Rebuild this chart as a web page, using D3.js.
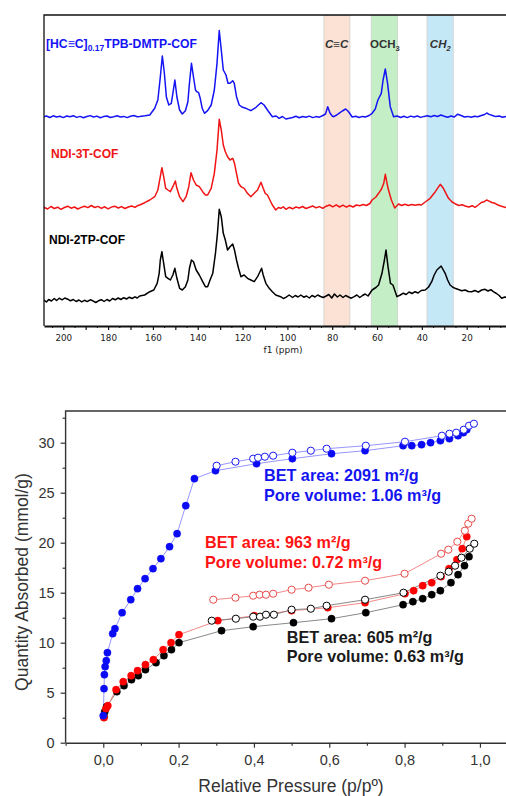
<!DOCTYPE html>
<html><head><meta charset="utf-8">
<script src="https://cdn.jsdelivr.net/npm/d3@7"></script>
<style>body{margin:0;background:#fff}svg{display:block}</style>
</head><body><svg id="c" width="506" height="796"></svg>
<script>
// ---------- Top panel: 13C NMR spectra (ppm, intensity a.u.) ----------
const blueSpec = [[208.6,0.3],[207.5,1],[206,-0.5],[204.5,1.2],[203,0],[201.5,0.8],[200,-0.6],[198.5,1],[197,0.2],[195.5,1.3],[194,-0.4],[192.5,0.6],[191,-0.8],[189.5,0.5],[188,1.4],[186.5,0],[185,0.9],[183.5,-0.7],[182,0.4],[180.5,1],[179,-0.5],[177.5,0.3],[176,1.2],[174.5,0],[173,0.6],[171.5,-0.6],[170,0.8],[168.5,1.5],[167,0.3],
[165.9,0.5],[163.5,1.2],[161.4,2],[159.2,8.7],[157.8,17],[156.7,40],[155.8,61],[154.9,44],[154,20],[152.9,12],[151.8,13.7],[151.1,23.7],[150.2,37],[149.3,20],[148.1,7],[146.9,3],[145.5,6.3],[144.4,15.3],[143.7,33.7],[142.8,53.7],[141.9,40],[141,27],[140.4,25.3],[139.6,24.3],[138.9,18.7],[138,8.7],[137,3.7],[135.6,6.3],[134,12],[132.6,27],[131.4,53.7],[130.4,86.5],[129.5,67],[128.6,47],[127.4,42],[126.5,33.7],[125.6,33.7],[124.4,36.3],[123.7,33.7],[122.7,20.3],[121.5,12],[120,9.7],[118.5,8.7],[116.3,6.3],[114,9.7],[111.8,14.3],[110.4,12],[108.9,7],[106.7,0.3],[105,1],[103.7,-1.3],[102.2,0.5],[100.7,-2],[99.2,-1.3],
[97.7,-0.5],[96.2,0.8],[94.7,-0.8],[93.2,0.5],[91.7,-0.3],[90.2,0.9],[88.7,-0.6],[87.2,0.4],[85.7,-0.2],[84.2,1.5],[83,3],[82,10.3],[81,4],[80,1],[79.3,0.3],[78,2],[77,3.7],[75.5,6],[74,8],[73,6],[72.3,4],[71.1,0],[69.5,0.8],[68,-0.5],[66.5,0.6],[65.2,0],[63.5,1.5],[62.2,3.7],[60.8,8],[59.6,17],[58.1,23.7],[57.3,37],[56.3,48],[55.3,33.7],[54.1,10.3],[52.6,0.3],[51,1],[49.5,-0.5],[48,0.7],[46.5,-0.6],[45,0.9],[43.5,0],[42,1],[40.5,-0.4],[39,0.6],[37.5,1.2],[36,0.2],[34.5,1.5],[33,0.5],[31.5,2],[30,0.8],[28.5,-0.3],[27,1],[25.5,0],[24,2.8],[22.5,1.5],[21,0],[19.5,0.6],[18,-0.3],[16.5,0.8],[15,0.2],[13.5,1.5],[12,2.5],[11,4],[10,2.6],[8.5,1.5],[7,0.4],[5.5,1],[4,-0.3],[2.5,0.6],[1,0.2],[0,0.5]];

const redSpec = [[208.6,0.7],[207,-1],[205.5,1.5],[204,-0.5],[202.5,0.8],[201,-1.3],[199.5,0.5],[198,1.8],[196.5,-0.2],[195,1],[193.5,-1],[192,0.6],[190.5,1.8],[189,0.4],[187.5,2.5],[186,0.5],[184.5,1.6],[183,-0.4],[181.5,1.2],[180,-0.8],[178.5,0.9],[177,1.8],[175.5,0],[174,1.4],[172.5,-0.5],[171,1],[169.5,2],[168,0.6],[167,2.2],
[165.9,3],[163.7,5.3],[161.4,8],[159.2,11.3],[157.8,18],[156.7,31.3],[156,40.3],[155.2,31.3],[154.3,19.7],[153.3,18],[152.2,16.3],[151.1,21.3],[150,27],[149.3,19.7],[148.1,11.3],[146.6,6.3],[145.2,11.3],[144,21.3],[143,35.3],[141.9,28],[140.7,23],[139.3,21.3],[137.8,16.3],[136.6,13],[135.6,13],[134,19.7],[132.6,34.7],[131.4,58],[130.4,88.7],[129.5,78],[128.6,63],[127.7,56.3],[126.7,51.3],[125.6,48],[124.4,49.7],[123.6,44.7],[122.7,34.7],[121.8,24.7],[120.7,21.3],[119.3,19.7],[117.8,14.7],[116.3,11.3],[114.8,14.7],[113.3,18],[111.8,25.7],[110.8,19.7],[109.9,14.7],[108.9,13],[107.8,8],[106.7,3],[105.2,-2],[104,0.5],[103,-0.3],[101.8,1.2],[100.7,-1.3],[99.2,0.7],
[97.7,-0.8],[96.2,1],[94.7,0],[93.2,1.5],[91.7,-0.5],[90.2,0.8],[88.7,2],[87.2,0.2],[85.7,1.4],[84.2,-0.3],[82.7,1.8],[81.2,3],[79.7,1.2],[78.2,3.2],[76.7,1],[75.2,2.8],[73.7,0.8],[72.2,2.5],[70.7,1],[69.2,3],[67.7,2.2],[66.2,3.5],[64.7,2.5],[63.2,4.5],[62.2,8],[60.5,11],[59.3,14.7],[58,19],[57,24.7],[56.3,33.7],[55.1,19.7],[53.6,8],[52.1,0],[50.4,4],[49,2.5],[47.5,3.8],[46,2.5],[44.5,3.5],[43,2.8],[41.5,3.6],[40.2,3],[38.5,6],[36.3,9.7],[34,16.3],[31.8,23.7],[30.4,19.7],[28.1,9.7],[26.5,6],[25.2,4.3],[23.5,2.5],[22,3.2],[20.7,2],[19,1],[17.5,2.3],[16.3,0.7],[14.8,3],[13.5,5.5],[12.2,6.3],[11.1,8],[10,6.8],[8.8,5.5],[7.4,4.7],[6,3],[4.8,2],[3.7,1.3],[2.4,0.5],[1,1],[0,0.3]];

const blackSpec = [[208.6,0],[207.5,-2],[206.5,0.5],[205.3,-1],[204,1.5],[203,-0.5],[201.8,1.8],[200.5,0.2],[199.3,2],[198,0.8],[196.8,-0.8],[195.5,0.5],[194.3,-1.5],[193,0],[191.8,-1.8],[190.5,-0.3],[189.3,-1.6],[188,0.2],[186.8,-0.8],[185.5,-2.5],[184.3,-0.8],[183,0.3],[181.8,-1.5],[180.5,0.5],[179.3,-1],[178,1.5],[176.8,0.2],[175.5,2],[174.3,0.5],[173,2.3],[171.8,1],[170.5,2.8],[169.3,1.5],[168,3.2],[167,2],
[165.9,4],[163.7,5],[161.4,8.3],[159.6,10],[158.1,16.7],[157.2,26.7],[156.7,40],[156,48.3],[155.2,36.7],[154.3,23.3],[153.3,21.7],[152.2,20],[151.1,25],[150.2,31.7],[149.3,21.7],[148.1,11.7],[146.9,10],[145.5,13.3],[144.4,20],[143.7,31.7],[142.8,40],[141.9,38.3],[140.7,30],[139.3,25],[137.8,18.3],[136.6,13.3],[135.6,13.3],[134.5,20],[133.3,26.7],[132.1,46.7],[131.2,66.7],[130.4,90.7],[129.5,83.3],[128.6,66.7],[127.7,60],[126.7,50],[125.6,53.3],[124.4,56],[123.6,50],[122.7,40],[121.8,31.7],[120.7,23.3],[119.3,25],[117.8,21.7],[116.3,20],[114.8,18.3],[113.3,23.3],[111.5,31.7],[110.8,25],[109.6,16.7],[108.1,11.7],[106.7,8.3],[105.2,5],[103,3.3],[101.8,1.5],[100.7,2.7],[99.2,5],
[97.7,2.5],[96.5,4.5],[95.2,3],[94,5],[92.7,2.8],[91.5,4],[90.2,2],[89,4.5],[87.7,3],[86.5,5],[85.2,3.5],[84,2.5],[82.7,4],[81.5,5.5],[80.2,2],[79,6],[77.7,3],[76.5,5],[75.2,2.5],[74,4.5],[72.7,3],[71.5,1.8],[70.2,3.3],[69,5],[67.7,2.5],[66.5,4.5],[65.3,6],[64,4],[62.2,10],[60.5,12.5],[59.3,15],[57.8,26.7],[56.7,40],[56,50],[55.1,33.3],[54,16.7],[52.9,15],[51.1,3.3],[49.6,5],[48.3,6.8],[47,5.5],[45.7,8],[44.4,6.5],[43,8.3],[41.7,7],[40.3,9.5],[38.5,10],[37,13],[35.6,18.3],[34.5,25],[33.3,30],[31.4,34],[29.6,26.7],[28.5,20],[27.4,15],[26.3,13],[25.2,11.7],[23.7,10.5],[22.2,9.3],[20.7,10],[19.3,8.5],[17.8,8.3],[16.3,9.5],[14.8,7.8],[13.3,10],[11.8,10.7],[10.5,9],[9.2,10.3],[8.1,8.3],[6.7,6.5],[5.5,4.5],[4.4,1.7],[3,3],[1.5,2],[0,2.5]];

const bandRanges = [[83.7,72.1],[62.6,50.8],[37.7,26.0]];
const bandColors = ["#fbe2d5","#c4efc6","#c5e8f7"];
const ppmTicks = [200,180,160,140,120,100,80,60,40,20];

// ---------- Bottom panel: N2 isotherms (p/p0, mmol/g) ----------
const blueAds = [[0.000,2.7],[0.002,5.4],[0.003,6.8],[0.005,7.6],[0.008,8.2],[0.011,9.0],[0.025,10.9],[0.031,11.4],[0.050,13.0],[0.073,14.3],[0.091,15.4],[0.111,16.4],[0.132,17.4],[0.153,18.4],[0.176,19.6],[0.196,20.9],[0.219,23.7],[0.242,26.4],[0.298,27.2],[0.407,27.9],[0.502,28.4],[0.606,28.9],[0.695,29.2],[0.796,29.7],[0.819,29.7],[0.845,29.8],[0.869,30.0],[0.895,30.2],[0.919,30.4],[0.942,30.7],[0.956,31.0],[0.965,31.3]];
const blueDes = [[0.301,27.7],[0.351,28.1],[0.398,28.4],[0.411,28.5],[0.429,28.6],[0.451,28.7],[0.502,29.0],[0.551,29.2],[0.593,29.4],[0.697,29.7],[0.801,30.1],[0.899,30.7],[0.919,30.9],[0.937,31.0],[0.957,31.3],[0.971,31.7],[0.984,31.9]];
const redAds = [[0.002,2.5],[0.007,3.4],[0.012,3.7],[0.034,5.3],[0.053,6.1],[0.074,6.7],[0.091,7.2],[0.112,7.8],[0.133,8.3],[0.159,9.3],[0.180,10.0],[0.201,10.8],[0.304,12.2],[0.401,12.7],[0.500,13.2],[0.596,13.5],[0.695,14.0],[0.801,14.9],[0.824,15.2],[0.848,15.7],[0.872,16.0],[0.897,16.6],[0.918,17.4],[0.939,18.3],[0.953,19.4],[0.965,20.6]];
const redDes = [[0.292,14.3],[0.351,14.5],[0.398,14.7],[0.415,14.8],[0.432,14.8],[0.451,14.9],[0.500,15.3],[0.545,15.5],[0.599,15.8],[0.695,16.2],[0.800,16.9],[0.897,18.9],[0.916,19.3],[0.940,20.1],[0.960,21.2],[0.969,21.9],[0.978,22.4]];
const blackAds = [[0.002,2.6],[0.004,3.1],[0.009,3.6],[0.036,5.1],[0.055,5.7],[0.075,6.3],[0.093,6.7],[0.112,7.3],[0.140,8.0],[0.161,8.7],[0.181,9.3],[0.201,10.0],[0.314,11.2],[0.398,11.6],[0.505,12.0],[0.606,12.4],[0.697,13.0],[0.796,13.8],[0.822,14.1],[0.848,14.4],[0.872,14.8],[0.895,15.2],[0.923,16.0],[0.942,16.8],[0.959,17.7],[0.971,18.6]];
const blackDes = [[0.288,12.2],[0.352,12.4],[0.398,12.6],[0.416,12.6],[0.432,12.8],[0.453,12.8],[0.500,13.3],[0.551,13.4],[0.593,13.7],[0.695,14.3],[0.797,15.0],[0.895,16.7],[0.917,17.1],[0.934,17.7],[0.951,18.5],[0.973,19.4],[0.985,19.9]];
const yTicks = [0,5,10,15,20,25,30];
const xTicks = [0,0.2,0.4,0.6,0.8,1.0];

const svg = d3.select("#c");

// ======== TOP PANEL ========
const T = {l:44, t:15, b:326, r:511.5};
const xs = d3.scaleLinear().domain([208.6, 0]).range([T.l, T.r]);
const ys = d3.scaleLinear().domain([0, 311]).range([T.b, T.t]);
svg.append("clipPath").attr("id","clipT").append("rect")
  .attr("x",T.l).attr("y",T.t).attr("width",T.r-T.l).attr("height",T.b-T.t);
const gT = svg.append("g").attr("clip-path","url(#clipT)");

gT.selectAll("rect.band").data(bandRanges).join("rect").attr("class","band")
  .attr("x", d => xs(d[0])).attr("width", d => xs(d[1]) - xs(d[0]))
  .attr("y", T.t).attr("height", T.b - T.t)
  .attr("fill", (d,i) => bandColors[i]).attr("stroke","#cfcfcf").attr("stroke-width",0.8);

const specs = [
  {data: blackSpec, color: "#000000", off: 26},
  {data: redSpec, color: "#f01414", off: 118},
  {data: blueSpec, color: "#1414f5", off: 209}
];
specs.forEach(s => {
  gT.append("path").datum(s.data)
    .attr("fill","none").attr("stroke", s.color).attr("stroke-width",1.5)
    .attr("stroke-linejoin","round")
    .attr("d", d3.line().x(d => xs(d[0])).y(d => ys(d[1] + s.off)));
});

// frame
svg.append("path").attr("d", `M${T.l},${T.b} L${T.l},${T.t} L${T.r},${T.t}`)
  .attr("fill","none").attr("stroke","#111").attr("stroke-width",1.3);
const axT = svg.append("g").attr("transform", `translate(0,${T.b})`)
  .call(d3.axisBottom(xs).tickValues(d3.range(200, 0, -10)).tickSize(4).tickSizeOuter(0)
    .tickFormat(d => ppmTicks.includes(d) ? d : ""));
axT.select(".domain").attr("stroke","#111").attr("stroke-width",2);
axT.selectAll(".tick line").attr("stroke","#111").attr("stroke-width",1.2);
axT.selectAll(".tick text").attr("font-family","DejaVu Sans").attr("font-size",8.8)
  .attr("fill","#222").attr("dy","0.9em");
svg.append("g").attr("transform", `translate(0,${T.b})`)
  .call(d3.axisBottom(xs).tickValues(d3.range(205, 0, -10)).tickSize(2).tickFormat(""))
  .call(g => g.select(".domain").remove())
  .selectAll(".tick line").attr("stroke","#111");
svg.append("text").attr("x", 283).attr("y", 353).attr("text-anchor","middle")
  .attr("font-family","DejaVu Sans").attr("font-size",9).attr("fill","#222").text("f1 (ppm)");

// series labels
const lab1 = svg.append("text").attr("x",46).attr("y",48).attr("font-family","Liberation Sans")
  .attr("font-weight","bold").attr("font-size",12.2).attr("fill","#1414f5");
lab1.append("tspan").text("[HC≡C]");
lab1.append("tspan").attr("font-size",8.5).attr("dy",3).text("0.17");
lab1.append("tspan").attr("dy",-3).text("TPB-DMTP-COF");
svg.append("text").attr("x",51).attr("y",158).attr("font-family","Liberation Sans")
  .attr("font-weight","bold").attr("font-size",12).attr("fill","#f01414").text("NDI-3T-COF");
svg.append("text").attr("x",49).attr("y",244).attr("font-family","Liberation Sans")
  .attr("font-weight","bold").attr("font-size",12).attr("fill","#000").text("NDI-2TP-COF");

// band labels
const bl = (x, parts, italic) => {
  const t = svg.append("text").attr("x",x).attr("y",48).attr("text-anchor","middle")
    .attr("font-family","Liberation Sans").attr("font-weight","bold").attr("font-size",11.5)
    .attr("fill","#333").attr("font-style", italic ? "italic" : "normal");
  parts.forEach(p => { const s = t.append("tspan").text(p[0]); if (p[1]) s.attr("font-size",7.5).attr("dy",p[1]); });
};
bl(xs(78), [["C≡C"]], true);
bl(xs(56.5), [["OCH"],["3",3]], false);
bl(xs(31.8), [["CH"],["2",3]], true);

// ======== BOTTOM PANEL ========
const B = {l:65.6, t:411, b:742.7, r:517.6};
const xb = d3.scaleLinear().domain([-0.1, 1.1]).range([B.l, B.r]);
const yb = d3.scaleLinear().domain([0, 33.17]).range([B.b, B.t]);

svg.append("path").attr("d", `M${B.l},${B.b} L${B.l},${B.t} L${B.r},${B.t}`)
  .attr("fill","none").attr("stroke","#333").attr("stroke-width",1.4);

const axY = svg.append("g").attr("transform", `translate(${B.l},0)`)
  .call(d3.axisLeft(yb).tickValues(yTicks).tickSize(5).tickSizeOuter(0).tickPadding(6));
axY.select(".domain").remove();
axY.selectAll(".tick line").attr("stroke","#333").attr("stroke-width",1.2);
axY.selectAll(".tick text").attr("font-family","Liberation Sans").attr("font-size",14.5).attr("fill","#333");
svg.append("g").attr("transform", `translate(${B.l},0)`)
  .call(d3.axisLeft(yb).tickValues(d3.range(2.5, 33, 5)).tickSize(3).tickFormat(""))
  .call(g => g.select(".domain").remove())
  .selectAll(".tick line").attr("stroke","#333").attr("stroke-width",1.2);

const axX = svg.append("g").attr("transform", `translate(0,${B.b})`)
  .call(d3.axisBottom(xb).tickValues(xTicks).tickSize(5).tickSizeOuter(0).tickPadding(7)
    .tickFormat(d => d3.format(".1f")(d).replace(".", ",")));
axX.select(".domain").attr("stroke","#333").attr("stroke-width",1.4);
axX.selectAll(".tick line").attr("stroke","#333").attr("stroke-width",1.2);
axX.selectAll(".tick text").attr("font-family","Liberation Sans").attr("font-size",14.5).attr("fill","#333");
svg.append("g").attr("transform", `translate(0,${B.b})`)
  .call(d3.axisBottom(xb).tickValues([-0.1,0.1,0.3,0.5,0.7,0.9,1.1]).tickSize(3).tickFormat(""))
  .call(g => g.select(".domain").remove())
  .selectAll(".tick line").attr("stroke","#333").attr("stroke-width",1.2);

svg.append("text").attr("x", 291).attr("y", 792).attr("text-anchor","middle")
  .attr("font-family","Liberation Sans").attr("font-size",17.5).attr("fill","#333")
  .text("Relative Pressure (p/pº)");
svg.append("text").attr("transform","translate(28,582) rotate(-90)").attr("text-anchor","middle")
  .attr("font-family","Liberation Sans").attr("font-size",17.5).attr("fill","#333")
  .text("Quantity Absorbed (mmol/g)");

const iso = [
  {data: blackAds, color:"#000", line:"#7a7a7a", open:false},
  {data: redAds, color:"#ff0000", line:"#f07a7a", open:false},
  {data: blackDes, color:"#000", line:"#7a7a7a", open:true},
  {data: redDes, color:"#e84a4a", line:"#f07a7a", open:true},
  {data: blueAds, color:"#0a0af5", line:"#8a8aff", open:false},
  {data: blueDes, color:"#1a1af0", line:"#8a8aff", open:true}
];
const gB = svg.append("g");
iso.forEach(s => {
  gB.append("path").datum(s.data).attr("fill","none").attr("stroke", s.line).attr("stroke-width",0.9)
    .attr("d", d3.line().x(d => xb(d[0])).y(d => yb(d[1])));
});
iso.forEach(s => {
  gB.append("g").selectAll("circle").data(s.data).join("circle")
    .attr("cx", d => xb(d[0])).attr("cy", d => yb(d[1])).attr("r", 3.6)
    .attr("fill", s.open ? "#fff" : s.color)
    .attr("stroke", s.color).attr("stroke-width", s.open ? 1 : 0.5);
});

// annotations
const ann = (x, y, lines, color) => {
  lines.forEach((t, i) => svg.append("text").attr("x", x).attr("y", y[i])
    .attr("font-family","Liberation Sans").attr("font-weight","bold").attr("font-size",16.2)
    .attr("fill", color).text(t));
};
ann(264, [481, 501], ["BET area: 2091 m²/g", "Pore volume: 1.06 m³/g"], "#1414f0");
ann(205, [548, 568], ["BET area: 963 m²/g", "Pore volume: 0.72 m³/g"], "#ff1414");
ann(286.7, [642.7, 661.7], ["BET area: 605 m²/g", "Pore volume: 0.63 m³/g"], "#1a1a1a");
</script></body></html>
